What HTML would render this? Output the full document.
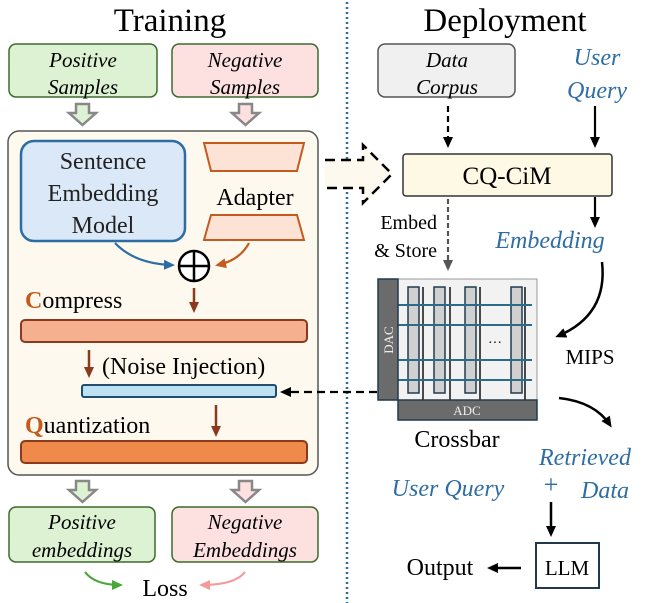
<!DOCTYPE html>
<html><head><meta charset="utf-8"><style>
html,body{margin:0;padding:0;background:#fff;}
svg{display:block;font-family:"Liberation Serif",serif;}
</style></head><body>
<svg width="648" height="603" viewBox="0 0 648 603" xmlns="http://www.w3.org/2000/svg">
<defs>
<marker id="ab" markerWidth="11" markerHeight="10" refX="8" refY="5" orient="auto" markerUnits="userSpaceOnUse"><path d="M0,0 L11,5 L0,10 Z" fill="#000"/></marker>
<marker id="ag" markerWidth="11" markerHeight="10" refX="8" refY="5" orient="auto" markerUnits="userSpaceOnUse"><path d="M0,0 L11,5 L0,10 Z" fill="#555"/></marker>
<marker id="abl" markerWidth="11" markerHeight="10" refX="8" refY="5" orient="auto" markerUnits="userSpaceOnUse"><path d="M0,0 L11,5 L0,10 Z" fill="#2e6da4"/></marker>
<marker id="aor" markerWidth="11" markerHeight="10" refX="8" refY="5" orient="auto" markerUnits="userSpaceOnUse"><path d="M0,0 L11,5 L0,10 Z" fill="#c55a1e"/></marker>
<marker id="abr" markerWidth="11" markerHeight="10" refX="8" refY="5" orient="auto" markerUnits="userSpaceOnUse"><path d="M0,0 L11,5 L0,10 Z" fill="#8b3a1e"/></marker>
<marker id="agr" markerWidth="11" markerHeight="10" refX="8" refY="5" orient="auto" markerUnits="userSpaceOnUse"><path d="M0,0 L11,5 L0,10 Z" fill="#4aa83a"/></marker>
<marker id="apk" markerWidth="11" markerHeight="10" refX="8" refY="5" orient="auto" markerUnits="userSpaceOnUse"><path d="M0,0 L11,5 L0,10 Z" fill="#f49a9a"/></marker>
</defs>

<text x="170" y="31" font-size="33" text-anchor="middle">Training</text>
<text x="505" y="31" font-size="33" text-anchor="middle">Deployment</text>
<line x1="347" y1="2" x2="347" y2="603" stroke="#2e6da4" stroke-width="2.5" stroke-dasharray="2,3"/>

<rect x="9" y="44" width="148" height="53" rx="7" fill="#dcf2d2" stroke="#3d6b2c" stroke-width="1.5"/>
<text x="83" y="67" font-size="21" font-style="italic" text-anchor="middle">Positive</text>
<text x="83" y="94" font-size="21" font-style="italic" text-anchor="middle">Samples</text>
<rect x="172" y="44" width="146" height="53" rx="7" fill="#fde0e0" stroke="#3d6b2c" stroke-width="1.5"/>
<text x="245" y="67" font-size="21" font-style="italic" text-anchor="middle">Negative</text>
<text x="245" y="94" font-size="21" font-style="italic" text-anchor="middle">Samples</text>

<path d="M76,104 H89 V113 H96 L82.5,125 L69,113 H76 Z" fill="#dcf2d2" stroke="#888" stroke-width="2.5"/>
<path d="M239,104 H252 V113 H259 L245.5,125 L232,113 H239 Z" fill="#fde0e0" stroke="#888" stroke-width="2.5"/>

<rect x="8" y="131" width="310" height="344" rx="11" fill="#fdf9ee" stroke="#555" stroke-width="1.5"/>
<rect x="21" y="141" width="164" height="100" rx="13" fill="#dae8f7" stroke="#2e6da4" stroke-width="2.5"/>
<text x="103" y="169" font-size="24" text-anchor="middle" fill="#222">Sentence</text>
<text x="103" y="201" font-size="24" text-anchor="middle" fill="#222">Embedding</text>
<text x="103" y="233" font-size="24" text-anchor="middle" fill="#222">Model</text>
<path d="M204,143 L304,143 L297,171 L211,171 Z" fill="#fde3d6" stroke="#c55a1e" stroke-width="2"/>
<text x="255" y="205" font-size="24" text-anchor="middle">Adapter</text>
<path d="M211,215 L297,215 L304,240 L204,240 Z" fill="#fde3d6" stroke="#c55a1e" stroke-width="2"/>
<circle cx="194" cy="266" r="15" fill="#fff" stroke="#000" stroke-width="2.5"/>
<line x1="179" y1="266" x2="209" y2="266" stroke="#000" stroke-width="2.5"/>
<line x1="194" y1="251" x2="194" y2="281" stroke="#000" stroke-width="2.5"/>
<path d="M115,243 Q135,264 172,265" fill="none" stroke="#2e6da4" stroke-width="2.2" marker-end="url(#abl)"/>
<path d="M249,243 Q240,260 218,265" fill="none" stroke="#c55a1e" stroke-width="2.2" marker-end="url(#aor)"/>

<text x="25" y="308" font-size="24"><tspan fill="#c55a1e" font-weight="bold">C</tspan>ompress</text>
<line x1="194" y1="288" x2="194" y2="310" stroke="#8b3a1e" stroke-width="2.5" marker-end="url(#abr)"/>
<rect x="21" y="320" width="286" height="22" rx="4" fill="#f4b08f" stroke="#8b3a1e" stroke-width="2"/>
<line x1="89" y1="350" x2="89" y2="375" stroke="#8b3a1e" stroke-width="2.5" marker-end="url(#abr)"/>
<text x="102" y="374" font-size="24">(Noise Injection)</text>
<rect x="82" y="385" width="194" height="12" rx="2" fill="#bde0f2" stroke="#1f4e6e" stroke-width="2"/>
<text x="25" y="433" font-size="24"><tspan fill="#c55a1e" font-weight="bold">Q</tspan>uantization</text>
<line x1="216" y1="405" x2="216" y2="434" stroke="#8b3a1e" stroke-width="2.5" marker-end="url(#abr)"/>
<rect x="21" y="441" width="286" height="22" rx="4" fill="#f08a4b" stroke="#8b3a1e" stroke-width="2"/>

<path d="M76,481 H89 V490 H96 L82.5,502 L69,490 H76 Z" fill="#dcf2d2" stroke="#888" stroke-width="2.5"/>
<path d="M239,481 H252 V490 H259 L245.5,502 L232,490 H239 Z" fill="#fde0e0" stroke="#888" stroke-width="2.5"/>

<rect x="9" y="507" width="146" height="55" rx="7" fill="#dcf2d2" stroke="#3d6b2c" stroke-width="1.5"/>
<text x="82" y="529" font-size="21" font-style="italic" text-anchor="middle">Positive</text>
<text x="82" y="557" font-size="21" font-style="italic" text-anchor="middle">embeddings</text>
<rect x="172" y="507" width="146" height="55" rx="7" fill="#fde0e0" stroke="#3d6b2c" stroke-width="1.5"/>
<text x="245" y="529" font-size="21" font-style="italic" text-anchor="middle">Negative</text>
<text x="245" y="557" font-size="21" font-style="italic" text-anchor="middle">Embeddings</text>
<text x="165" y="596" font-size="24" text-anchor="middle">Loss</text>
<path d="M85,572 Q95,585 120,585" fill="none" stroke="#4aa83a" stroke-width="2.2" marker-end="url(#agr)"/>
<path d="M245,572 Q235,585 202,585" fill="none" stroke="#f49a9a" stroke-width="2.2" marker-end="url(#apk)"/>

<rect x="378" y="44" width="137" height="53" rx="7" fill="#f0f0f0" stroke="#555" stroke-width="1.5"/>
<text x="447" y="67" font-size="21" font-style="italic" text-anchor="middle">Data</text>
<text x="447" y="94" font-size="21" font-style="italic" text-anchor="middle">Corpus</text>
<text x="597" y="65" font-size="24" font-style="italic" fill="#2e6da4" text-anchor="middle">User</text>
<text x="597" y="98" font-size="24" font-style="italic" fill="#2e6da4" text-anchor="middle">Query</text>
<line x1="448" y1="106" x2="448" y2="145" stroke="#000" stroke-width="2.2" stroke-dasharray="6,4" marker-end="url(#ab)"/>
<line x1="595" y1="106" x2="595" y2="145" stroke="#000" stroke-width="2.2" marker-end="url(#ab)"/>

<path d="M325,160 H363 V145 L392,174 L363,203 V188 H325" fill="#fdf9ee" stroke="#000" stroke-width="2.5" stroke-dasharray="10,6"/>
<rect x="403" y="154" width="209" height="42" rx="3" fill="#fdf9e4" stroke="#333" stroke-width="1.5"/>
<text x="507" y="184" font-size="25" text-anchor="middle">CQ-CiM</text>
<line x1="595" y1="197" x2="595" y2="225" stroke="#000" stroke-width="2.2" marker-end="url(#ab)"/>
<text x="550" y="248" font-size="24" font-style="italic" fill="#2e6da4" text-anchor="middle">Embedding</text>
<text x="437" y="229" font-size="20" text-anchor="end">Embed</text>
<text x="437" y="257" font-size="20" text-anchor="end">&amp; Store</text>
<line x1="448" y1="199" x2="448" y2="268" stroke="#555" stroke-width="2.2" stroke-dasharray="5,3" marker-end="url(#ag)"/>

<rect x="398" y="279" width="139" height="121" fill="#f2f2f2" stroke="#999" stroke-width="1"/>
<g fill="#d0d0d0" stroke="#1f3a4f" stroke-width="1.5">
<rect x="408" y="287" width="11" height="106"/>
<rect x="434" y="287" width="11" height="106"/>
<rect x="465" y="287" width="11" height="106"/>
<rect x="511" y="287" width="11" height="106"/>
</g>
<g stroke="#111" stroke-width="1.5">
<line x1="423" y1="287" x2="423" y2="400"/><line x1="450" y1="287" x2="450" y2="400"/>
<line x1="480" y1="287" x2="480" y2="400"/><line x1="525" y1="287" x2="525" y2="400"/>
</g>
<g stroke="#2a6a8a" stroke-width="2">
<line x1="398" y1="305" x2="532" y2="305"/><line x1="398" y1="325" x2="532" y2="325"/>
<line x1="398" y1="360" x2="532" y2="360"/><line x1="398" y1="380" x2="532" y2="380"/>
</g>
<text x="495" y="347" font-size="14" text-anchor="middle">···</text>
<rect x="378" y="279" width="20" height="121" fill="#6b6b6b" stroke="#1f3a4f" stroke-width="1.5"/>
<text x="0" y="0" font-size="13" fill="#eee" text-anchor="middle" transform="translate(393,340) rotate(-90)">DAC</text>
<rect x="398" y="400" width="139" height="20" fill="#6b6b6b" stroke="#1f3a4f" stroke-width="1.5"/>
<text x="467" y="415" font-size="13" fill="#eee" text-anchor="middle">ADC</text>
<text x="457" y="447" font-size="24" text-anchor="middle">Crossbar</text>

<path d="M602,262 Q608,315 558,336" fill="none" stroke="#000" stroke-width="2.5" marker-end="url(#ab)"/>
<text x="590" y="364" font-size="21" text-anchor="middle">MIPS</text>
<line x1="377" y1="392" x2="283" y2="392" stroke="#000" stroke-width="2.2" stroke-dasharray="8,5" marker-end="url(#ab)"/>
<path d="M559,398 Q595,402 610,425" fill="none" stroke="#000" stroke-width="2.5" marker-end="url(#ab)"/>

<text x="585" y="465" font-size="24" font-style="italic" fill="#2e6da4" text-anchor="middle">Retrieved</text>
<text x="551" y="493" font-size="26" fill="#2e6da4" text-anchor="middle">+</text>
<text x="605" y="498" font-size="24" font-style="italic" fill="#2e6da4" text-anchor="middle">Data</text>
<text x="448" y="496" font-size="24" font-style="italic" fill="#2e6da4" text-anchor="middle">User Query</text>
<line x1="551" y1="502" x2="551" y2="534" stroke="#000" stroke-width="2.5" marker-end="url(#ab)"/>
<rect x="536" y="543" width="63" height="45" fill="#fff" stroke="#1f3a4f" stroke-width="2"/>
<text x="567" y="575" font-size="21" text-anchor="middle">LLM</text>
<text x="440" y="575" font-size="24" text-anchor="middle">Output</text>
<line x1="521" y1="568" x2="490" y2="568" stroke="#000" stroke-width="2.5" marker-end="url(#ab)"/>
</svg>
</body></html>
